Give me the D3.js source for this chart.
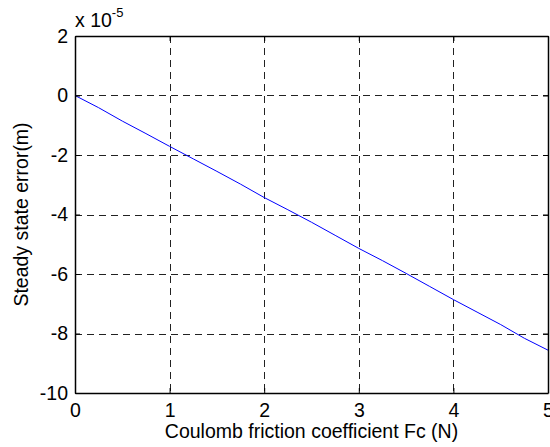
<!DOCTYPE html>
<html>
<head>
<meta charset="utf-8">
<script src="https://cdn.jsdelivr.net/npm/d3@7"></script>
<style>
  body { margin: 0; background: #fff; }
  text { font-family: "Liberation Sans", Arial, sans-serif; fill: #000; }
</style>
</head>
<body>
<div id="chart"></div>
<script>
var width = 550;
var height = 447;

// Coulomb friction coefficient Fc (N)
var fc = [0, 0.25, 0.5, 0.75, 1, 1.25, 1.5, 1.75, 2, 2.25, 2.5,
          2.75, 3, 3.25, 3.5, 3.75, 4, 4.25, 4.5, 4.75, 5];
// steady state error, in units of 1e-5 m
var err = [0, -0.41, -0.86, -1.28, -1.71, -2.13, -2.55, -2.98, -3.43, -3.84, -4.26,
           -4.70, -5.14, -5.55, -5.98, -6.42, -6.86, -7.28, -7.70, -8.16, -8.56];
var xTicks = [0, 1, 2, 3, 4, 5];
var yTicks = [-10, -8, -6, -4, -2, 0, 2];

var margin = { top: 36, right: 2, bottom: 54, left: 75 };
var plotW = width - margin.left - margin.right;
var plotH = height - margin.top - margin.bottom;
var fontSize = '19.5px';

var svg = d3.select('#chart')
  .append('svg')
  .attr('width', width)
  .attr('height', height);

var g = svg.append('g')
  .attr('transform', 'translate(' + margin.left + ',' + margin.top + ')');

var x = d3.scaleLinear().domain([0, 5]).range([0, plotW]);
var y = d3.scaleLinear().domain([-10, 2]).range([plotH, 0]);

// grid
g.append('g').selectAll('line')
  .data(xTicks.slice(1, -1))
  .enter().append('line')
  .attr('x1', function(d) { return Math.round(x(d)) + 0.5; })
  .attr('x2', function(d) { return Math.round(x(d)) + 0.5; })
  .attr('y1', 0).attr('y2', plotH)
  .attr('stroke', '#222').attr('stroke-width', 1)
  .attr('stroke-dasharray', '7,5');

g.append('g').selectAll('line')
  .data(yTicks.slice(1, -1))
  .enter().append('line')
  .attr('y1', function(d) { return Math.round(y(d)) + 0.5; })
  .attr('y2', function(d) { return Math.round(y(d)) + 0.5; })
  .attr('x1', 0).attr('x2', plotW)
  .attr('stroke', '#222').attr('stroke-width', 1)
  .attr('stroke-dasharray', '7,5');

// data line
var line = d3.line()
  .x(function(d, i) { return x(fc[i]); })
  .y(function(d) { return y(d); });

g.append('path')
  .datum(err)
  .attr('d', line)
  .attr('fill', 'none')
  .attr('stroke', '#0000ff')
  .attr('stroke-width', 1);

// axes, matlab style: ticks inside on all four sides
var tickLen = 5;
var plain = function(d) { return String(d); };
var xBottom = d3.axisBottom(x).tickValues(xTicks).tickSizeInner(-tickLen).tickSizeOuter(0)
  .tickPadding(10).tickFormat(plain);
var xTop = d3.axisTop(x).tickValues(xTicks).tickSizeInner(-tickLen).tickSizeOuter(0).tickFormat('');
var yLeft = d3.axisLeft(y).tickValues(yTicks).tickSizeInner(-tickLen).tickSizeOuter(0)
  .tickPadding(7).tickFormat(plain);
var yRight = d3.axisRight(y).tickValues(yTicks).tickSizeInner(-tickLen).tickSizeOuter(0).tickFormat('');

function styleAxis(sel) {
  sel.selectAll('path, line').attr('stroke', '#000');
  sel.selectAll('text').style('font-size', fontSize).attr('fill', '#000');
}

g.append('g').attr('transform', 'translate(0,' + plotH + ')').call(xBottom).call(styleAxis);
g.append('g').call(xTop).call(styleAxis);
g.append('g').call(yLeft).call(styleAxis);
g.append('g').attr('transform', 'translate(' + plotW + ',0)').call(yRight).call(styleAxis);

g.selectAll('.domain').attr('stroke-width', 1.5);

// exponent label
var expo = svg.append('text')
  .attr('x', margin.left)
  .attr('y', 27)
  .style('font-size', fontSize);
expo.append('tspan').text('x 10');
expo.append('tspan').attr('dy', -10).style('font-size', '13px').text('-5');

// axis titles
svg.append('text')
  .attr('x', margin.left + plotW / 2)
  .attr('y', 438)
  .attr('text-anchor', 'middle')
  .style('font-size', fontSize)
  .text('Coulomb friction coefficient Fc (N)');

svg.append('text')
  .attr('transform', 'translate(28,' + (margin.top + plotH / 2) + ') rotate(-90)')
  .attr('text-anchor', 'middle')
  .style('font-size', fontSize)
  .text('Steady state error(m)');
</script>
</body>
</html>
